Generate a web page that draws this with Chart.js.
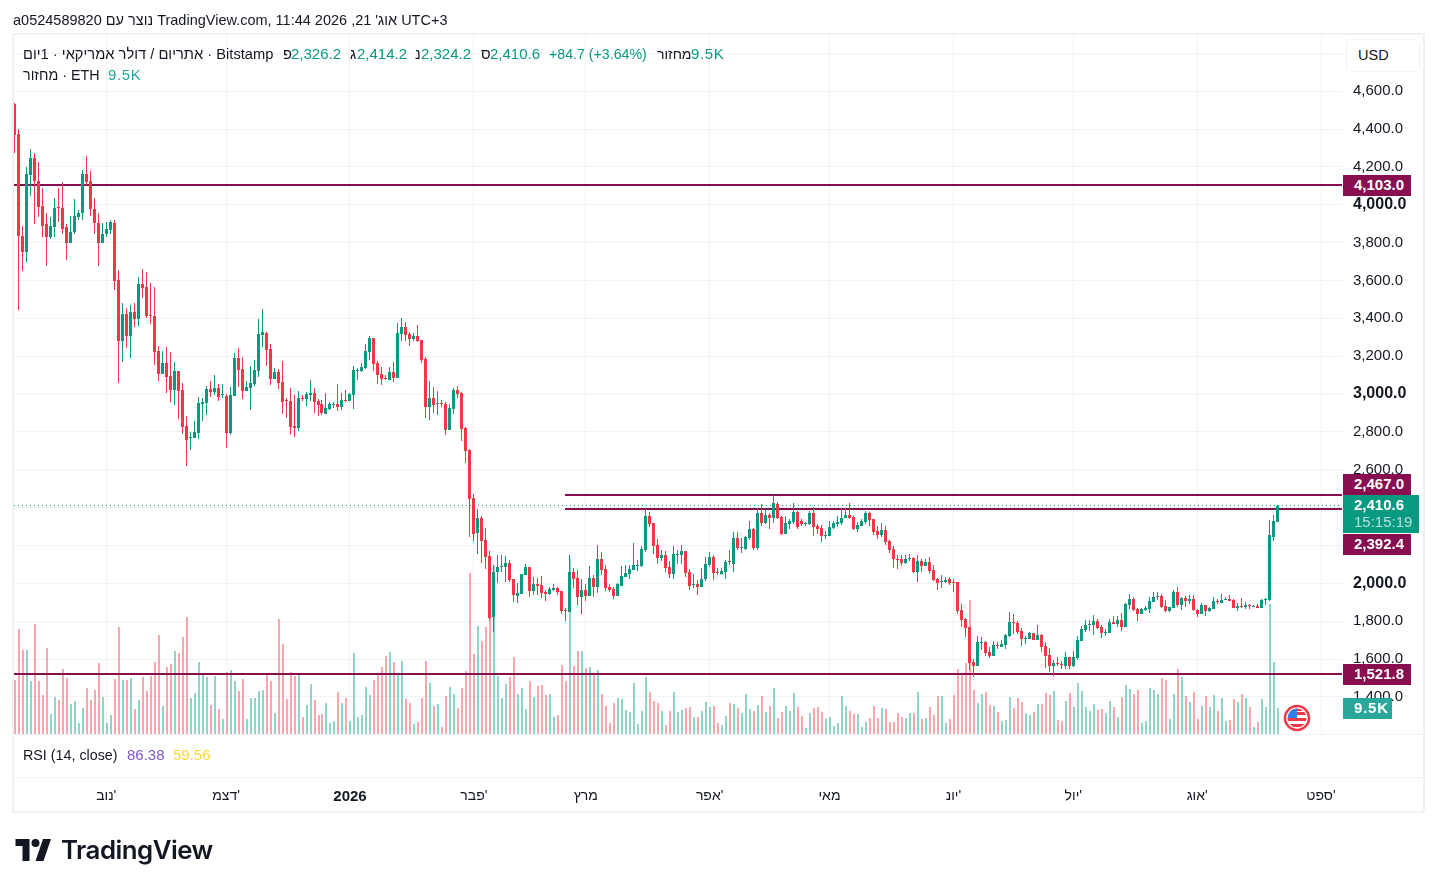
<!DOCTYPE html>
<html lang="he">
<head>
<meta charset="utf-8">
<title>ETH/USD</title>
<script src="https://cdn.jsdelivr.net/npm/chart.js@4/dist/chart.umd.min.js"></script>
<style>
  html, body { margin: 0; padding: 0; background: #fff; overflow: hidden; }
  body { width: 1437px; height: 887px; position: relative; font-family: "Liberation Sans", sans-serif; color: #131722; }
  canvas { position: absolute; left: 0; top: 0; }
  .t { position: absolute; white-space: nowrap; font-size: 14.7px; line-height: 18px; transform: translateY(-50%); }
  .num { font-size: 15px; }
  .up { color: #089981; }
  .line { position: absolute; background: #f0f1f3; }
  .tag { position: absolute; left: 1343px; width: 68px; height: 21px; line-height: 19px; background: #880e4f; color: #fff; font-size: 15px; font-weight: bold; text-indent: 11px; }
  #usd { position: absolute; left: 1346px; top: 39px; width: 72px; height: 31px; line-height: 31px; border: 1px solid #f0f1f3; border-radius: 6px; background: #fff; font-size: 14.5px; text-indent: 11px; }
</style>
</head>
<body>
<canvas id="chart" width="1437" height="887"></canvas>

<div class="line" style="left:12px;top:33px;width:1412px;height:2px"></div>
<div class="line" style="left:12px;top:33px;width:2px;height:779px"></div>
<div class="line" style="left:1423px;top:33px;width:2px;height:779px"></div>
<div class="line" style="left:12px;top:734px;width:1412px;height:1px"></div>
<div class="line" style="left:12px;top:777px;width:1412px;height:1px"></div>
<div class="line" style="left:12px;top:811px;width:1412px;height:2px"></div>

<div class="t" style="left:13px;top:20px;font-size:14.5px">a0524589820 <span dir="rtl">נוצר עם</span> TradingView.com, 11:44 2026 ,21 <bdi dir="rtl">אוג'</bdi> UTC+3</div>

<div class="t" style="left:23px;top:54px"><bdi dir="rtl">אתריום / דולר אמריקאי · 1יום</bdi> · Bitstamp</div>
<div class="t" style="left:283px;top:54px">פ</div><div class="t num up" style="left:291px;top:54px">2,326.2</div>
<div class="t" style="left:350px;top:54px">ג</div><div class="t num up" style="left:357px;top:54px">2,414.2</div>
<div class="t" style="left:415px;top:54px">נ</div><div class="t num up" style="left:421px;top:54px">2,324.2</div>
<div class="t" style="left:481px;top:54px">ס</div><div class="t num up" style="left:490px;top:54px">2,410.6</div>
<div class="t up" style="left:549px;top:54px;font-size:14.2px">+84.7 (+3.64%)</div>
<div class="t" style="left:657px;top:54px;font-size:14px">מחזור</div><div class="t num up" style="left:691px;top:54px;letter-spacing:.6px">9.5K</div>
<div class="t" style="left:23px;top:75px;font-size:14.3px"><bdi dir="rtl">מחזור</bdi> · ETH</div>
<div class="t num" style="left:108px;top:75px;color:#26a69a;letter-spacing:.6px">9.5K</div>

<div class="t" style="left:23px;top:755px;font-size:14.3px">RSI (14, close)</div>
<div class="t num" style="left:127px;top:755px;color:#7e57c2">86.38</div>
<div class="t num" style="left:173px;top:755px;color:#fdd835">59.56</div>

<div id="usd">USD</div>
<div class="tag" style="top:175px">4,103.0</div>
<div class="tag" style="top:474px">2,467.0</div>
<div class="tag" style="top:534px">2,392.4</div>
<div class="tag" style="top:664px">1,521.8</div>
<div class="tag" style="top:698px;width:49px;background:#2aa79b;letter-spacing:.8px">9.5K</div>
<div class="tag" style="top:495px;width:76px;height:38px;line-height:normal;background:#089981">
  <div style="margin-top:1px">2,410.6</div>
  <div style="margin-top:0;font-weight:normal;color:#b5e2da">15:15:19</div>
</div>

<svg style="position:absolute;left:1283px;top:704px" width="28" height="28" viewBox="0 0 28 28">
  <circle cx="14" cy="14" r="12" fill="#fff" stroke="#f23645" stroke-width="2.5"/>
  <clipPath id="flag"><circle cx="14" cy="14" r="9.5"/></clipPath>
  <g clip-path="url(#flag)">
    <rect x="4" y="14" width="20" height="3" fill="#f23645"/>
    <rect x="4" y="20" width="20" height="3" fill="#f23645"/>
    <rect x="4" y="4" width="20" height="3" fill="#f23645"/>
    <rect x="14" y="8" width="10" height="3" fill="#f23645"/>
    <rect x="4" y="4" width="10" height="10" fill="#2f80ed"/>
  </g>
</svg>

<svg style="position:absolute;left:15px;top:839px" width="37" height="22" viewBox="0 0 36 22">
  <path fill="#131722" d="M14 22H7V7H0V0h14v22zM28 22h-8l7.5-22h8L28 22z"/>
  <circle fill="#131722" cx="20" cy="4" r="4"/>
</svg>
<div class="t" style="left:61px;top:850px;font-family:Inter,sans-serif;font-size:25.8px;line-height:32px;font-weight:600;letter-spacing:-0.5px">TradingView</div>

<script>
const tickDates = ['2025-11-01', '2025-12-01', '2026-01-01', '2026-02-01', '2026-03-01', '2026-04-01', '2026-05-01', '2026-06-01', '2026-07-01', '2026-08-01', '2026-09-01'];
const tickNames = ["נוב'", "דצמ'", '2026', "פבר'", 'מרץ', "אפר'", 'מאי', "יונ'", "יול'", "אוג'", "ספט'"];
const priceTicks = [1400, 1600, 1800, 2000, 2200, 2400, 2600, 2800, 3000, 3200, 3400, 3600, 3800, 4000, 4200, 4400, 4600, 4800];

const levelFull = [4103.0, 1521.8];
const levelPartial = [2467.0, 2392.4];
const lastPrice = 2410.6;

const opens = [
  4530,4372,3837,3749,4155,4245,4128,3991,3896,3832,
  3885,3986,3985,3880,3800,3858,3933,3954,4160,4123,
  3980,3906,3800,3843,3869,3906,3604,3282,3425,3308,
  3435,3398,3583,3567,3418,3414,3229,3107,3165,3096,
  3022,3123,3022,2832,2767,2766,2795,2948,2953,3028,
  3012,3033,2994,2991,2795,2991,3192,3134,3017,3033,
  3054,3123,3314,3324,3240,3081,3118,3065,2967,2964,
  2832,2822,2979,2975,2996,3007,2964,2949,2896,2922,
  2945,2949,2933,2970,2964,2996,3125,3123,3139,3224,
  3298,3166,3107,3087,3076,3118,3086,3319,3356,3319,
  3293,3308,3287,3187,2933,2980,2950,2953,2949,2811,
  2922,3023,3007,2822,2705,2451,2266,2345,2229,2144,
  1822,2060,2088,2087,2108,2023,1933,1944,2044,2087,
  1960,1997,1991,1954,1944,1965,1975,1960,1860,1848,
  2060,2028,1928,1965,1933,2028,1981,2129,2076,1981,
  1970,1933,1986,2034,2050,2071,2095,2092,2177,2356,
  2319,2203,2134,2150,2087,2050,2152,2150,2171,2060,
  1993,1997,1981,2023,2097,2140,2060,2050,2060,2116,
  2102,2240,2189,2182,2240,2288,2187,2372,2319,2362,
  2346,2420,2351,2261,2314,2325,2378,2330,2316,2314,
  2372,2304,2293,2251,2251,2293,2314,2319,2346,2362,
  2351,2288,2304,2325,2372,2341,2277,2256,2282,2224,
  2182,2129,2129,2108,2130,2134,2060,2118,2092,2113,
  2071,2023,2010,2007,2023,2009,2007,1859,1811,1769,
  1584,1563,1688,1690,1637,1616,1672,1663,1674,1721,
  1795,1790,1748,1709,1706,1737,1700,1727,1668,1621,
  1563,1579,1575,1563,1610,1563,1605,1695,1753,1781,
  1780,1801,1769,1739,1737,1795,1785,1806,1769,1885,
  1917,1864,1838,1859,1864,1901,1929,1933,1880,1854,
  1870,1954,1885,1923,1907,1917,1859,1838,1885,1854,
  1864,1907,1896,1912,1917,1912,1870,1880,1875,1885,
  1875,1880,1870,1915,1912,2245,2326.2
];
const highs = [
  4536,4398,3890,4202,4296,4271,4224,4091,3954,3933,
  4033,4086,4118,3896,3938,4028,3970,4181,4255,4176,
  4038,3954,3906,3911,3917,3917,3657,3483,3456,3472,
  3483,3620,3663,3647,3589,3567,3255,3229,3250,3223,
  3170,3123,3059,2885,2800,2858,2985,2980,3043,3070,
  3102,3054,3054,3001,3038,3218,3245,3197,3070,3150,
  3181,3398,3451,3330,3266,3139,3134,3176,2980,3033,
  2996,3017,2996,3012,3076,3033,2975,2970,3007,2959,
  2959,3054,3007,3023,3007,3150,3139,3165,3266,3308,
  3298,3176,3144,3102,3144,3171,3377,3404,3383,3330,
  3324,3367,3287,3197,3070,3039,3017,2970,2959,2949,
  3033,3044,3012,2827,2710,2472,2393,2356,2292,2171,
  2097,2150,2150,2145,2124,2023,2002,2050,2102,2087,
  2034,2028,2039,1965,1981,1997,1981,1960,1870,2150,
  2081,2071,2023,1997,2092,2044,2203,2166,2097,1997,
  1981,2002,2092,2097,2097,2214,2124,2198,2393,2378,
  2319,2235,2177,2171,2118,2198,2177,2203,2171,2076,
  2050,2018,2081,2140,2166,2150,2081,2081,2124,2177,
  2272,2272,2240,2251,2330,2293,2399,2420,2388,2372,
  2468,2431,2356,2356,2341,2425,2383,2341,2325,2383,
  2404,2314,2309,2277,2330,2330,2356,2399,2399,2425,
  2356,2325,2341,2383,2378,2341,2304,2319,2304,2230,
  2198,2150,2150,2150,2155,2140,2150,2129,2129,2140,
  2097,2028,2044,2034,2034,2023,2007,1891,1817,1769,
  1600,1721,1716,1695,1663,1695,1690,1700,1732,1848,
  1838,1801,1764,1721,1743,1737,1780,1732,1690,1658,
  1595,1610,1589,1637,1610,1642,1721,1774,1806,1806,
  1833,1811,1780,1758,1811,1827,1827,1843,1896,1944,
  1928,1870,1870,1880,1928,1954,1954,1944,1912,1875,
  1965,1981,1928,1933,1938,1938,1864,1896,1885,1875,
  1928,1917,1944,1928,1938,1917,1896,1923,1901,1891,
  1885,1891,1917,1923,2335,2362,2414.2
];
const lows = [
  4271,3442,3652,3700,4044,3896,3933,3832,3679,3821,
  3827,3911,3843,3710,3800,3848,3917,3922,4097,3938,
  3843,3679,3800,3832,3843,3552,3059,3170,3245,3192,
  3356,3361,3509,3403,3372,3155,3070,3107,3006,2959,
  2943,2869,2789,2620,2705,2766,2763,2858,2890,2985,
  2996,2964,2980,2715,2784,2991,3038,2975,3017,2917,
  3044,3091,3250,3150,3049,3081,3028,2896,2875,2790,
  2774,2806,2964,2938,2964,2901,2885,2890,2896,2917,
  2927,2912,2917,2959,2964,2922,3076,3118,3134,3181,
  3123,3054,3049,3076,3076,3065,3086,3282,3282,3256,
  3282,3277,3166,2875,2864,2901,2890,2933,2785,2811,
  2896,2980,2753,2636,2245,2224,2155,2107,2075,1806,
  1743,2002,2060,2007,2007,1901,1896,1944,2044,1928,
  1938,1938,1923,1907,1938,1960,1938,1838,1801,1848,
  1976,1886,1838,1907,1933,1928,1949,2044,1960,1954,
  1917,1933,1986,2034,2023,2071,2065,2087,2166,2298,
  2155,2102,2118,2060,2028,2023,2102,2102,2034,1965,
  1976,1938,1981,2012,2087,2018,2044,2044,2023,2097,
  2060,2177,2161,2177,2229,2177,2177,2304,2314,2288,
  2319,2341,2256,2261,2288,2314,2288,2304,2304,2309,
  2251,2261,2219,2235,2251,2288,2298,2309,2346,2341,
  2282,2272,2304,2314,2304,2256,2235,2245,2203,2161,
  2081,2076,2092,2102,2118,2055,2007,2060,2092,2055,
  2012,1965,1976,2002,1991,1954,1838,1769,1716,1542,
  1504,1563,1647,1616,1605,1616,1653,1663,1653,1716,
  1732,1732,1669,1679,1706,1700,1700,1637,1552,1531,
  1510,1563,1547,1547,1547,1557,1594,1695,1743,1748,
  1727,1758,1711,1721,1737,1785,1769,1748,1769,1864,
  1854,1801,1838,1854,1843,1901,1912,1870,1848,1848,
  1870,1875,1859,1875,1891,1854,1822,1838,1827,1848,
  1864,1891,1896,1912,1907,1870,1854,1870,1864,1864,
  1875,1870,1870,1885,1907,2224,2324.2
];
const closes = [
  4368,3834,3749,4160,4245,4123,3987,3890,3832,3890,
  3985,3982,3874,3800,3858,3938,3959,4160,4118,3975,
  3901,3800,3848,3874,3911,3599,3282,3425,3308,3435,
  3398,3583,3562,3414,3414,3223,3107,3165,3091,3022,
  3123,3017,2827,2758,2771,2800,2953,2959,3028,3012,
  3033,2985,2998,2795,2996,3192,3128,3017,3039,3060,
  3129,3319,3330,3234,3081,3118,3060,2959,2963,2827,
  2822,2980,2975,3002,3007,2959,2943,2901,2927,2949,
  2949,2933,2970,2966,3002,3129,3129,3144,3229,3298,
  3160,3102,3081,3083,3118,3086,3324,3356,3314,3293,
  3308,3282,3181,2933,2980,2943,2954,2949,2811,2927,
  3023,3002,2816,2700,2446,2261,2345,2224,2139,1816,
  2060,2087,2092,2108,2018,1938,1949,2050,2087,1960,
  1997,1986,1949,1944,1970,1975,1954,1854,1857,2060,
  2023,1928,1965,1933,2028,1981,2129,2071,1975,1965,
  1933,1997,2039,2055,2076,2097,2099,2182,2356,2314,
  2198,2134,2150,2081,2050,2155,2156,2171,2055,1986,
  1997,1981,2023,2102,2140,2055,2056,2065,2113,2113,
  2240,2187,2193,2245,2288,2187,2372,2319,2362,2346,
  2425,2346,2261,2319,2330,2378,2298,2314,2320,2372,
  2298,2288,2251,2255,2298,2319,2325,2346,2362,2346,
  2288,2309,2330,2372,2335,2272,2256,2282,2219,2177,
  2129,2125,2108,2129,2134,2060,2118,2092,2113,2065,
  2018,2002,2014,2018,2002,2005,1854,1806,1764,1579,
  1563,1690,1692,1632,1616,1674,1668,1679,1727,1796,
  1791,1743,1706,1713,1737,1700,1727,1663,1616,1563,
  1579,1575,1571,1610,1563,1610,1700,1758,1780,1785,
  1801,1764,1737,1743,1795,1785,1806,1769,1891,1917,
  1859,1838,1864,1870,1907,1928,1933,1875,1854,1875,
  1954,1885,1923,1907,1917,1859,1838,1885,1854,1870,
  1907,1901,1912,1919,1907,1870,1880,1875,1885,1880,
  1880,1870,1912,1919,2256,2330,2410.6
];
// volume in thousands of ETH
const volumes = [
  19.7,38.3,30.7,30.7,19.4,40.2,19.4,14.2,31.4,7.3,
  13.5,12.4,23.7,20.4,11.0,12.0,4.0,9.5,16.8,12.4,
  16.1,25.9,13.5,4.0,6.9,20.1,39.1,19.7,19.7,20.4,
  9.1,12.4,20.8,15.7,21.2,26.3,36.1,10.2,24.5,25.6,
  30.3,29.6,35.4,42.7,13.1,15.0,26.3,22.3,20.8,10.6,
  21.2,9.1,5.5,22.6,23.4,19.4,15.7,20.1,5.5,13.1,
  13.1,15.7,16.1,21.9,19.4,7.7,42.0,32.9,12.8,22.6,
  21.2,21.9,6.2,10.6,18.3,12.4,6.9,7.3,11.3,4.0,
  4.7,15.3,11.3,13.1,4.7,29.6,6.2,6.9,17.2,14.2,
  19.7,22.3,24.5,28.5,29.9,26.3,21.9,26.7,12.8,11.3,
  3.7,4.4,13.1,26.7,18.6,10.2,11.0,2.6,13.9,17.2,
  14.6,9.5,16.8,23.0,58.8,29.2,39.4,34.0,39.1,44.1,
  61.7,21.2,13.1,18.3,20.8,28.1,14.6,16.8,9.1,19.4,
  13.5,17.5,17.9,14.2,14.6,6.2,6.9,25.2,19.4,63.9,
  24.8,30.3,30.3,24.1,24.5,21.5,23.4,14.6,10.2,4.0,
  11.3,13.1,12.8,8.8,8.0,18.6,3.7,8.4,20.8,15.3,
  12.0,11.3,8.4,3.3,8.4,15.3,8.0,8.8,9.5,9.9,
  6.2,6.2,8.4,11.7,9.9,10.2,4.0,3.3,6.6,11.3,
  11.0,9.5,7.7,14.6,9.1,8.4,10.6,13.9,8.0,10.2,
  16.8,5.8,8.0,10.2,8.4,15.0,9.9,6.6,2.2,7.7,
  9.5,9.9,8.0,5.5,6.2,2.9,4.0,13.9,10.2,8.4,
  7.3,7.3,2.6,4.4,5.8,10.2,5.8,9.5,9.1,4.4,
  4.4,7.7,6.2,5.8,7.7,7.7,15.3,5.5,5.8,9.9,
  6.9,13.9,13.9,4.0,5.5,14.2,23.7,21.9,25.9,48.9,
  16.1,11.3,14.6,15.3,10.6,10.2,8.0,4.7,5.1,13.5,
  9.5,13.1,11.7,7.7,6.9,8.0,11.0,11.0,15.0,14.2,
  15.7,5.1,4.7,12.0,15.0,9.9,18.6,15.7,9.9,8.4,
  11.0,8.8,9.1,7.7,12.0,9.9,6.2,13.5,17.9,16.4,
  14.6,16.1,4.0,4.7,16.8,16.1,14.6,20.4,19.7,5.5,
  14.6,23.7,20.8,13.9,11.7,15.3,5.5,10.2,13.9,9.9,
  14.2,8.4,13.1,4.7,5.1,12.8,11.7,14.6,13.1,9.9,
  2.6,4.4,12.8,9.9,47.5,26.3,9.5
];

const UP = '#089981';
const DOWN = '#f23645';
const GRID = '#f1f2f4';
const LEVEL = '#880e4f';
const FONT = '"Liberation Sans", sans-serif';

// one day per slot, with room on the right up to the price axis
const categories = [];
for (let i = 0; i < 333; i++) {
  categories.push(new Date(Date.UTC(2025, 9, 9 + i)).toISOString().slice(0, 10));
}

const isUp = opens.map((o, i) => closes[i] >= o);

function levelLine(value, fromIndex, color, width, dash) {
  return {
    type: 'line',
    data: categories.map((_, i) => (i >= fromIndex ? value : null)),
    yAxisID: 'y',
    borderColor: color,
    borderWidth: width,
    borderDash: dash || [],
    borderCapStyle: dash ? 'butt' : 'square',
    pointRadius: 0,
    order: 2
  };
}

// TradingView draws on whole pixels, so snap the elements the scales placed
const snapPixels = {
  id: 'snapPixels',
  afterDatasetsUpdate(chart) {
    chart.data.datasets.forEach((ds, i) => {
      chart.getDatasetMeta(i).data.forEach(el => {
        if (ds.type === 'line') {
          el.x = Math.round(el.x);
          el.y = ds.borderWidth % 2 ? Math.floor(el.y) + 0.5 : Math.round(el.y);
        } else {
          el.x = el.width % 2 ? Math.floor(el.x) + 0.5 : Math.floor(el.x) + 1;
          el.y = Math.round(el.y);
          el.base = Math.round(el.base);
          if (el.base - el.y < 1) el.base = el.y + 1;
        }
      });
    });
  }
};

new Chart(document.getElementById('chart').getContext('2d'), {
  type: 'bar',
  plugins: [snapPixels],
  data: {
    labels: categories,
    datasets: [
      {
        // candle bodies
        data: opens.map((o, i) => [Math.min(o, closes[i]), Math.max(o, closes[i])]),
        yAxisID: 'y',
        backgroundColor: isUp.map(u => (u ? UP : DOWN)),
        barThickness: 3,
        inflateAmount: 0,
        grouped: false,
        order: 0
      },
      {
        // wicks
        data: lows.map((l, i) => [l, highs[i]]),
        yAxisID: 'y',
        backgroundColor: isUp.map(u => (u ? UP : DOWN)),
        barThickness: 1,
        inflateAmount: 0,
        grouped: false,
        order: 1
      },
      levelLine(levelFull[0], 0, LEVEL, 2),
      levelLine(levelFull[1], 0, LEVEL, 2),
      levelLine(levelPartial[0], 138, LEVEL, 2),
      levelLine(levelPartial[1], 138, LEVEL, 2),
      levelLine(lastPrice, 0, UP, 1, [1, 3]),
      {
        data: volumes,
        yAxisID: 'vol',
        backgroundColor: isUp.map(u => (u ? 'rgba(8,153,129,0.44)' : 'rgba(242,54,69,0.44)')),
        barThickness: 2,
        inflateAmount: 0,
        grouped: false,
        order: 5
      }
    ]
  },
  options: {
    responsive: false,
    animation: false,
    layout: { padding: { left: 12.3, right: 12, top: 34, bottom: 76 } },
    plugins: { legend: { display: false }, tooltip: { enabled: false } },
    scales: {
      x: {
        offset: true,
        grid: { color: GRID, offset: false, drawTicks: false },
        border: { display: false },
        afterBuildTicks: axis => {
          axis.ticks = axis.ticks.filter(t => tickDates.includes(categories[t.value]));
        },
        afterFit: axis => { axis.height = 77; },
        ticks: {
          autoSkip: false,
          maxRotation: 0,
          padding: 54,
          color: '#131722',
          font: ctx => {
            const bold = ctx.tick && ctx.tick.label === '2026';
            return { family: FONT, size: bold ? 15 : 14, weight: bold ? 'bold' : 'normal' };
          },
          callback: value => tickNames[tickDates.indexOf(categories[value])]
        }
      },
      y: {
        position: 'right',
        min: 1204,
        max: 4902,
        grid: { color: GRID, drawTicks: false },
        border: { display: false },
        afterBuildTicks: axis => {
          axis.ticks = priceTicks.map(v => ({ value: v }));
        },
        afterFit: axis => { axis.width = 82; },
        ticks: {
          autoSkip: false,
          padding: 10,
          color: '#131722',
          font: ctx => {
            const bold = ctx.tick && ctx.tick.value % 1000 === 0;
            return { family: FONT, size: bold ? 16 : 15, weight: bold ? 'bold' : 'normal' };
          },
          callback: value => value.toLocaleString('en-US', { minimumFractionDigits: 1 })
        }
      },
      vol: {
        display: false,
        min: 0,
        max: 256
      }
    }
  }
});
</script>
</body>
</html>
